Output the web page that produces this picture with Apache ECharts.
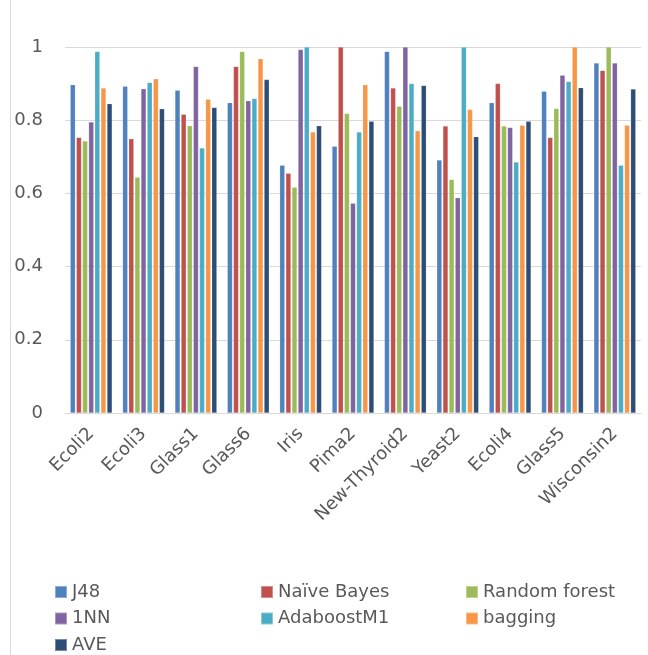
<!DOCTYPE html>
<html>
<head>
<meta charset="utf-8">
<script src="https://cdn.jsdelivr.net/npm/echarts@6/dist/echarts.min.js"></script>
<style>
html,body{margin:0;padding:0;background:#fff;}
#chart{width:648px;height:655px;}
</style>
</head>
<body>
<div id="chart"></div>
<script>
const categories = ['Ecoli2','Ecoli3','Glass1','Glass6','Iris','Pima2','New-Thyroid2','Yeast2','Ecoli4','Glass5','Wisconsin2'];
const seriesNames = ['J48','Naïve Bayes','Random forest','1NN','AdaboostM1','bagging','AVE'];
const j48          = [0.897,0.893,0.882,0.848,0.677,0.729,0.988,0.691,0.848,0.879,0.956];
const naiveBayes   = [0.753,0.749,0.816,0.947,0.655,1.000,0.888,0.784,0.900,0.753,0.936];
const randomForest = [0.743,0.644,0.785,0.988,0.617,0.818,0.838,0.638,0.784,0.832,1.000];
const oneNN        = [0.795,0.886,0.947,0.853,0.993,0.573,1.000,0.588,0.780,0.923,0.956];
const adaboostM1   = [0.988,0.903,0.724,0.859,1.000,0.768,0.900,1.000,0.686,0.906,0.677];
const bagging      = [0.888,0.913,0.857,0.968,0.768,0.897,0.771,0.829,0.786,1.000,0.786];
const ave          = [0.845,0.831,0.835,0.911,0.785,0.797,0.895,0.755,0.797,0.889,0.885];
const yTicks = [0, 0.2, 0.4, 0.6, 0.8, 1];

const seriesData = [j48, naiveBayes, randomForest, oneNN, adaboostM1, bagging, ave];
const colors = ['#4F81BD','#C0504D','#9BBB59','#8064A2','#4BACC6','#F79646','#2C4D75'];
const FONT = 'DejaVu Sans';
const TXT = '#595959';

const chart = echarts.init(document.getElementById('chart'), null, {renderer:'canvas'});
const legendText = {color: TXT, fontFamily: FONT, fontSize: 18, lineHeight: 20};
function legend(names, left){
  return {
    data: names, orient: 'vertical', left: left, top: 582, padding: 0,
    itemWidth: 12, itemHeight: 12, itemGap: 6.5, icon: 'rect',
    textStyle: legendText, selectedMode: false
  };
}
chart.setOption({
  animation: false,
  color: colors,
  textStyle: {fontFamily: FONT},
  graphic: [{
    type: 'line', shape: {x1: 10.5, y1: 0, x2: 10.5, y2: 655},
    style: {stroke: '#d9d9d9', lineWidth: 1}
  }],
  legend: [
    legend(['J48','1NN','AVE'], 54),
    legend(['Naïve Bayes','AdaboostM1'], 260),
    legend(['Random forest','bagging'], 465)
  ],
  grid: {left: 65, right: 7, top: 47, bottom: 242, containLabel: false},
  xAxis: {
    type: 'category', data: categories,
    axisLine: {show: true, lineStyle: {color: '#d9d9d9', width: 1}},
    axisTick: {show: false},
    axisLabel: {rotate: 45, interval: 0, margin: 18, color: TXT, fontFamily: FONT, fontSize: 18}
  },
  yAxis: {
    type: 'value', min: yTicks[0], max: yTicks[yTicks.length-1], interval: 0.2,
    axisLine: {show: false}, axisTick: {show: false},
    splitLine: {lineStyle: {color: '#d9d9d9', width: 1}},
    axisLabel: {margin: 22, color: TXT, fontFamily: FONT, fontSize: 18}
  },
  series: seriesNames.map((n, i) => ({
    name: n, type: 'bar', data: seriesData[i],
    barGap: '20%', barCategoryGap: '20%',
    itemStyle: {color: colors[i], borderColor: 'rgba(255,255,255,0.35)', borderWidth: 0.5}
  }))
});
</script>
</body>
</html>
